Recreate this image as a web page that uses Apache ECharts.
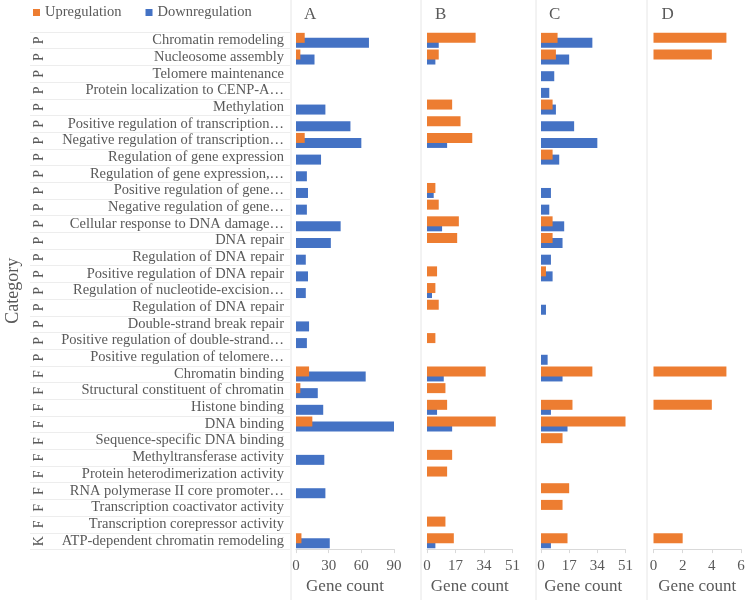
<!DOCTYPE html>
<html>
<head>
<meta charset="utf-8">
<script src="https://cdn.jsdelivr.net/npm/echarts@6/dist/echarts.min.js"></script>
<style>
  html, body { margin: 0; padding: 0; background: #fff; }
  #chart { width: 750px; height: 600px; }
</style>
</head>
<body>
<div id="chart"></div>
<script>
// categories (top to bottom) and their group letters
const categories = [
  'Chromatin remodeling', 'Nucleosome assembly', 'Telomere maintenance',
  'Protein localization to CENP-A…', 'Methylation',
  'Positive regulation of transcription…', 'Negative regulation of transcription…',
  'Regulation of gene expression', 'Regulation of gene expression,…',
  'Positive regulation of gene…', 'Negative regulation of gene…',
  'Cellular response to DNA damage…', 'DNA repair', 'Regulation of DNA repair',
  'Positive regulation of DNA repair', 'Regulation of nucleotide-excision…',
  'Regulation of DNA repair', 'Double-strand break repair',
  'Positive regulation of double-strand…', 'Positive regulation of telomere…',
  'Chromatin binding', 'Structural constituent of chromatin', 'Histone binding',
  'DNA binding', 'Sequence-specific DNA binding', 'Methyltransferase activity',
  'Protein heterodimerization activity', 'RNA polymerase II core promoter…',
  'Transcription coactivator activity', 'Transcription corepressor activity',
  'ATP-dependent chromatin remodeling'
]
const groups = [
  'P', 'P', 'P', 'P', 'P', 'P', 'P', 'P', 'P', 'P', 'P', 'P', 'P', 'P', 'P', 'P', 'P', 'P', 'P', 'P',
  'F', 'F', 'F', 'F', 'F', 'F', 'F', 'F', 'F', 'F',
  'K'
]

// gene counts per panel
const upA = [8, 4, 0, 0, 0, 0, 8, 0, 0, 0, 0, 0, 0, 0, 0, 0, 0, 0, 0, 0, 12, 4, 0, 15, 0, 0, 0, 0, 0, 0, 5]
const downA = [67, 17, 0, 0, 27, 50, 60, 23, 10, 11, 10, 41, 32, 9, 11, 9, 0, 12, 10, 0, 64, 20, 25, 91, 0, 26, 0, 27, 0, 0, 31]
const upB = [29, 7, 0, 0, 15, 20, 27, 0, 0, 5, 7, 19, 18, 0, 6, 5, 7, 0, 5, 0, 35, 11, 12, 41, 0, 15, 12, 0, 0, 11, 16]
const downB = [7, 5, 0, 0, 0, 0, 12, 0, 0, 4, 0, 9, 0, 0, 0, 3, 0, 0, 0, 0, 10, 0, 6, 15, 0, 0, 0, 0, 0, 0, 5]
const upC = [10, 9, 0, 0, 7, 0, 0, 7, 0, 0, 0, 7, 7, 0, 3, 0, 0, 0, 0, 0, 31, 0, 19, 51, 13, 0, 0, 17, 13, 0, 16]
const downC = [31, 17, 8, 5, 9, 20, 34, 11, 0, 6, 5, 14, 13, 6, 7, 0, 3, 0, 0, 4, 13, 0, 6, 16, 0, 0, 0, 0, 0, 0, 6]
const upD = [5, 4, 0, 0, 0, 0, 0, 0, 0, 0, 0, 0, 0, 0, 0, 0, 0, 0, 0, 0, 5, 0, 4, 0, 0, 0, 0, 0, 0, 0, 2]
const downD = [0, 0, 0, 0, 0, 0, 0, 0, 0, 0, 0, 0, 0, 0, 0, 0, 0, 0, 0, 0, 0, 0, 0, 0, 0, 0, 0, 0, 0, 0, 0]

const panels = [
  { name: 'A', up: upA, down: downA, max: 90, interval: 30, left: 296, width: 98 },
  { name: 'B', up: upB, down: downB, max: 51, interval: 17, left: 427, width: 85.5 },
  { name: 'C', up: upC, down: downC, max: 51, interval: 17, left: 541, width: 84.5 },
  { name: 'D', up: upD, down: downD, max: 6, interval: 2, left: 653.5, width: 87.5 }
]

const FONT = 'Liberation Serif'
const TXT = '#595959'
const UP = '#ED7D31'
const DOWN = '#4472C4'
const TOP = 32
const HEIGHT = 517.5

const chart = echarts.init(document.getElementById('chart'))

const grid = [{ left: 30, width: 260, top: TOP, height: HEIGHT }]
const xAxis = [{ gridIndex: 0, type: 'value', show: false }]
const yAxis = [{
  gridIndex: 0,
  type: 'category',
  inverse: true,
  data: categories,
  axisLine: { show: false },
  axisTick: { show: false },
  splitLine: { show: true, lineStyle: { color: '#ededed' } },
  axisLabel: {
    inside: true,
    rotate: 90,
    margin: 2,
    interval: 0,
    fontFamily: FONT,
    fontSize: 14,
    color: TXT,
    formatter: (v, i) => groups[i]
  },
  name: 'Category',
  nameLocation: 'middle',
  nameRotate: 90,
  nameGap: 8,
  nameTextStyle: { fontFamily: FONT, fontSize: 18, color: TXT }
}]
const series = []
const title = []

panels.forEach((p, i) => {
  const g = i + 1
  grid.push({ left: p.left, width: p.width, top: TOP, height: HEIGHT })
  xAxis.push({
    gridIndex: g,
    type: 'value',
    min: 0,
    max: p.max,
    interval: p.interval,
    axisLine: { show: true, lineStyle: { color: '#d9d9d9' } },
    axisTick: { show: true, length: 4, lineStyle: { color: '#d9d9d9' } },
    splitLine: { show: false },
    axisLabel: { fontFamily: FONT, fontSize: 15, color: TXT, margin: 9 },
    name: 'Gene count',
    nameLocation: 'middle',
    nameGap: 27,
    nameTextStyle: { fontFamily: FONT, fontSize: 17, color: TXT }
  })
  yAxis.push({
    gridIndex: g,
    type: 'category',
    inverse: true,
    data: categories,
    axisLine: { show: false },
    axisTick: { show: false },
    axisLabel: g === 1
      ? { show: true, interval: 0, margin: 12, fontFamily: FONT, fontSize: 14.5, color: TXT }
      : { show: false }
  })
  series.push({
    name: 'Upregulation',
    type: 'bar',
    xAxisIndex: g,
    yAxisIndex: g,
    data: p.up,
    barWidth: 10,
    barGap: '-50%',
    z: 3,
    itemStyle: { color: UP }
  })
  series.push({
    name: 'Downregulation',
    type: 'bar',
    xAxisIndex: g,
    yAxisIndex: g,
    data: p.down,
    barWidth: 10,
    barGap: '-50%',
    z: 2,
    itemStyle: { color: DOWN }
  })
  title.push({
    text: p.name,
    left: p.left + 8,
    top: 6,
    padding: 0,
    textStyle: { fontFamily: FONT, fontSize: 17, fontWeight: 'normal', color: TXT }
  })
})

// light panel separators
const sepX = [291, 421, 536, 647]

chart.setOption({
  animation: false,
  backgroundColor: '#fff',
  title: title,
  legend: {
    left: 28,
    top: 0,
    icon: 'rect',
    itemWidth: 7,
    itemHeight: 7,
    itemGap: 24,
    textStyle: { fontFamily: FONT, fontSize: 14.5, color: TXT },
    data: [
      { name: 'Upregulation', itemStyle: { color: UP } },
      { name: 'Downregulation', itemStyle: { color: DOWN } }
    ]
  },
  graphic: sepX.map(x => ({
    type: 'line',
    shape: { x1: x, y1: 0, x2: x, y2: 600 },
    style: { stroke: '#e6e6e6', lineWidth: 1 },
    silent: true
  })),
  grid: grid,
  xAxis: xAxis,
  yAxis: yAxis,
  series: series
})
</script>
</body>
</html>
